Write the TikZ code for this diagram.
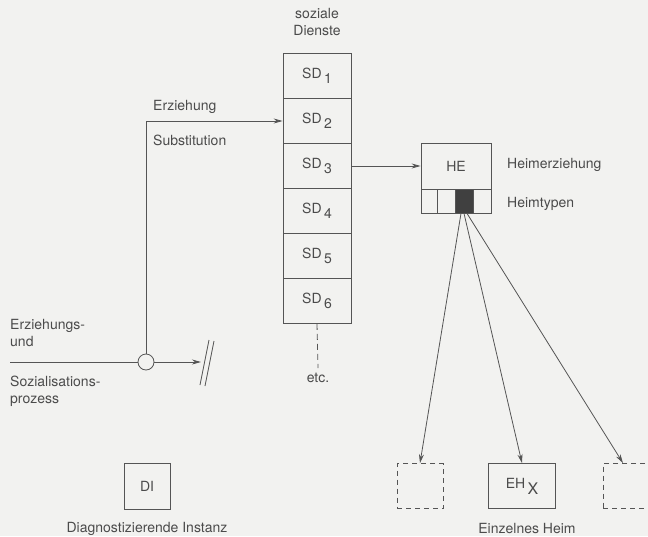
\documentclass[tikz,border=0pt]{standalone}
\usepackage{fontspec}
\setmainfont{TeX Gyre Heros}
\usetikzlibrary{arrows.meta}
\definecolor{bg}{RGB}{242,242,240}
\definecolor{ink}{RGB}{85,85,85}
\definecolor{txt}{RGB}{75,75,75}
\newcommand{\lowsub}[1]{\,\raisebox{-5pt}{#1}}
\tikzset{
  base/.style={draw=ink, line width=0.8pt, inner sep=0pt},
  sdbox/.style={base, rectangle, minimum width=68pt, minimum height=45pt, text=txt},
  cell/.style={base, rectangle, minimum height=24pt},
  dbox/.style={base, rectangle, dashed, dash pattern=on 5pt off 4pt, minimum width=46pt, minimum height=45pt},
  lbl/.style={text=txt, inner sep=0pt, font=\fontsize{14}{17}\selectfont},
  conn/.style={draw=ink, line width=0.8pt},
  arr/.style={conn, -{Stealth[length=9pt,width=5pt]}},
}
\begin{document}
\begin{tikzpicture}[x=1pt,y=-1pt, font=\fontsize{14}{17}\selectfont]
\useasboundingbox (0,0) rectangle (648,536);
\fill[bg] (0,0) rectangle (648,536);
\begin{scope}
\clip (0,0) rectangle (648,536);
% social services column
\node[lbl, align=center] (sozlbl) at (317,22) {soziale\\Dienste};
\node[sdbox] (sd1) at (317,76)  {SD\lowsub{1}};
\node[sdbox] (sd2) at (317,121) {SD\lowsub{2}};
\node[sdbox] (sd3) at (317,166) {SD\lowsub{3}};
\node[sdbox] (sd4) at (317,211) {SD\lowsub{4}};
\node[sdbox] (sd5) at (317,256) {SD\lowsub{5}};
\node[sdbox] (sd6) at (317,301) {SD\lowsub{6}};
\coordinate (etcend) at (318,368);
\draw[conn, dashed, dash pattern=on 6pt off 4pt] (sd6.south) -- (etcend);
\node[lbl] (etc) at (318,378) {etc.};

% Heimerziehung
\node[base, rectangle, minimum width=70pt, minimum height=46pt, text=txt] (he) at (456,166) {HE};
\node[cell, minimum width=16pt] (c1) at (429,201) {};
\node[cell, minimum width=18pt] (c2) at (446,201) {};
\node[cell, minimum width=18pt, fill=black!75] (c3) at (464,201) {};
\node[cell, minimum width=18pt] (c4) at (482,201) {};
\node[lbl, anchor=west] (helbl) at (507,165) {Heimerziehung};
\node[lbl, anchor=west] (htlbl) at (507,204) {Heimtypen};

\draw[arr] (sd3.east) -- (he.west);

% lower boxes
\node[dbox] (d1) at (420,486) {};
\node[base, rectangle, minimum width=67pt, minimum height=45pt, text=txt] (eh) at (522,486) {EH\,\raisebox{-6pt}{\fontsize{16}{17}\selectfont X}};
\node[dbox, minimum width=48pt] (d3) at (627,486) {};
\node[lbl] (ehlbl) at (527,528) {Einzelnes Heim};

\draw[arr] ([xshift=-3pt]c3.south) -- (d1.north);
\draw[arr] ([xshift=0pt]c3.south) -- (eh.north);
\draw[arr] ([xshift=3pt]c3.south) -- ([xshift=-4pt]d3.north);

% DI
\node[base, rectangle, minimum width=46pt, minimum height=46pt, text=txt] (di) at (147,486) {DI};
\node[lbl] (dilbl) at (147,529) {Diagnostizierende Instanz};

% socialisation process
\node[lbl, anchor=west, align=left] (eulbl) at (10,333) {Erziehungs-\\und};
\node[lbl, anchor=west, align=left] (szlbl) at (10,391) {Sozialisations-\\prozess};
\node[base, circle, minimum size=16pt] (circ) at (146,362) {};
\coordinate (lstart) at (10,362);
\coordinate (lend) at (201,362);
\draw[conn] (lstart) -- (circ.west);
\draw[arr] (circ.east) -- (lend);
\coordinate (s1a) at (209,340);
\coordinate (s1b) at (200,385);
\coordinate (s2a) at (214,341);
\coordinate (s2b) at (205,386);
\draw[conn] (s1a) -- (s1b);
\draw[conn] (s2a) -- (s2b);

\draw[arr] (circ.north) |- (sd2.west);
\node[lbl, anchor=west] (erzlbl) at (153,107) {Erziehung};
\node[lbl, anchor=west] (sublbl) at (153,140) {Substitution};
\end{scope}
\end{tikzpicture}
\end{document}
